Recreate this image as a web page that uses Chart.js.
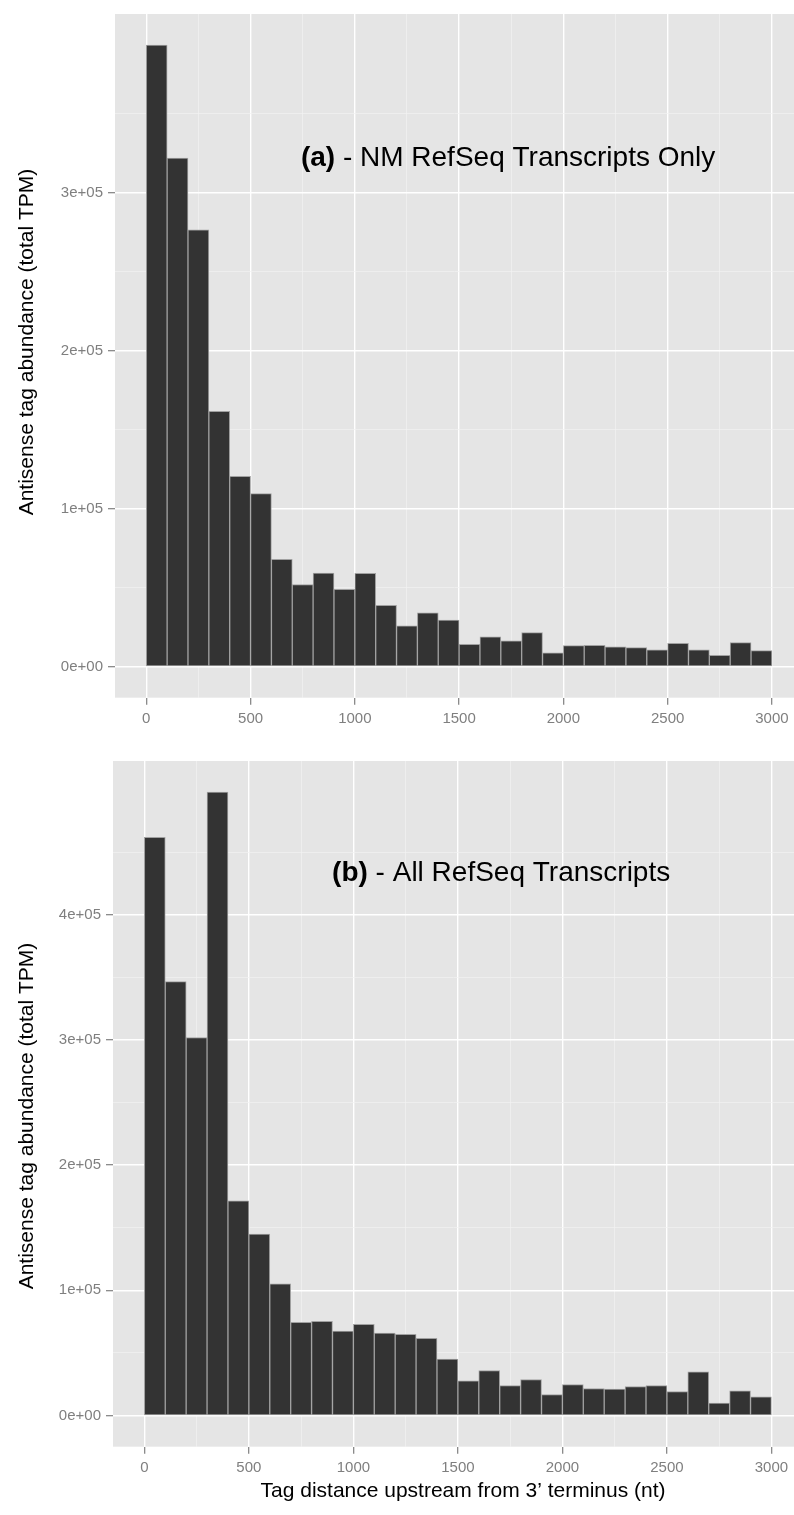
<!DOCTYPE html>
<html>
<head>
<meta charset="utf-8">
<script src="https://cdn.jsdelivr.net/npm/chart.js@4.4.0/dist/chart.umd.min.js"></script>
<style>
  body { margin: 0; background: #fff; width: 794px; height: 1515px; position: relative; overflow: hidden; }
  .panel { position: absolute; left: 0; width: 794px; }
  #wrapA { top: 0; height: 740px; }
  #wrapB { top: 740px; height: 775px; }
</style>
</head>
<body>
<div class="panel" id="wrapA"><canvas id="chartA" width="794" height="740"></canvas></div>
<div class="panel" id="wrapB"><canvas id="chartB" width="794" height="775"></canvas></div>
<script>
/* =========================
   DATA
========================= */
// bin centres (nt), 100 nt bins from 0 to 3000
const binCenters = [50, 150, 250, 350, 450, 550, 650, 750, 850, 950,
  1050, 1150, 1250, 1350, 1450, 1550, 1650, 1750, 1850, 1950,
  2050, 2150, 2250, 2350, 2450, 2550, 2650, 2750, 2850, 2950];

// (a) NM RefSeq transcripts only, total TPM per bin
const nmRefSeq = [393500, 322000, 276500, 161600, 120400, 109500, 68000, 52000, 59300, 48900,
  59000, 38800, 25900, 34100, 29500, 14100, 18900, 16400, 21500, 8800,
  13300, 13500, 12600, 12000, 10700, 14700, 10700, 7200, 15200, 10100];

// (b) all RefSeq transcripts, total TPM per bin
const allRefSeq = [462000, 346600, 302000, 498000, 171500, 144900, 105200, 74400, 75200, 67500,
  72800, 65900, 64800, 61600, 45100, 27700, 36000, 24000, 28800, 16800,
  24800, 21600, 21100, 23200, 24000, 19200, 34900, 9900, 19700, 14900];

const xMajorTicks = [0, 500, 1000, 1500, 2000, 2500, 3000];
const xTickLabels = ["0", "500", "1000", "1500", "2000", "2500", "3000"];
const xMinorTicks = [250, 750, 1250, 1750, 2250, 2750];

const yMajorTicksA = [0, 100000, 200000, 300000];
const yTickLabelsA = ["0e+00", "1e+05", "2e+05", "3e+05"];
const yMinorTicksA = [50000, 150000, 250000, 350000];

const yMajorTicksB = [0, 100000, 200000, 300000, 400000];
const yTickLabelsB = ["0e+00", "1e+05", "2e+05", "3e+05", "4e+05"];
const yMinorTicksB = [50000, 150000, 250000, 350000, 450000];

const yTitle = "Antisense tag abundance (total TPM)";
const xTitle = "Tag distance upstream from 3\u2019 terminus (nt)";

const FONT = "'Liberation Sans', Arial, Helvetica, sans-serif";

/* =========================
   PLUGINS
========================= */
// grey ggplot panel
const panelBg = {
  id: "panelBg",
  beforeDraw(chart) {
    const { ctx, chartArea: a } = chart;
    ctx.save();
    ctx.fillStyle = "#e5e5e5";
    ctx.fillRect(a.left, a.top, a.right - a.left, a.bottom - a.top);
    ctx.restore();
  }
};

// panel label "(a) - ..." and axis titles
const panelText = {
  id: "panelText",
  afterDatasetsDraw(chart, args, opts) {
    const { ctx, scales } = chart;
    ctx.save();
    ctx.fillStyle = "#000";
    ctx.textBaseline = "middle";
    // label, centred on a data position
    const lab = opts.label;
    const cx = scales.x.getPixelForValue(lab.x);
    const cy = scales.y.getPixelForValue(lab.y);
    ctx.font = "bold 28px " + FONT;
    const w1 = ctx.measureText(lab.bold).width;
    ctx.font = "28px " + FONT;
    const w2 = ctx.measureText(lab.rest).width;
    const x0 = cx - (w1 + w2) / 2;
    ctx.textAlign = "left";
    ctx.font = "bold 28px " + FONT;
    ctx.fillText(lab.bold, x0, cy);
    ctx.font = "28px " + FONT;
    ctx.fillText(lab.rest, x0 + w1, cy);
    // y title
    ctx.font = "21px " + FONT;
    ctx.textAlign = "center";
    ctx.save();
    ctx.translate(opts.yTitle.x, opts.yTitle.y);
    ctx.rotate(-Math.PI / 2);
    ctx.fillText(yTitle, 0, 0);
    ctx.restore();
    if (opts.xTitle) {
      ctx.fillText(xTitle, opts.xTitle.x, opts.xTitle.y);
    }
    ctx.restore();
  }
};

/* =========================
   CHART BUILDER
========================= */
function histogram(id, values, yMajor, yLabels, yMinor, cfg) {
  const maxVal = Math.max(...values);
  const majX = c => !!c.tick && xMajorTicks.includes(c.tick.value);
  const majY = c => !!c.tick && yMajor.includes(c.tick.value);

  return new Chart(document.getElementById(id), {
    type: "bar",
    data: {
      datasets: [{
        data: binCenters.map((c, i) => ({ x: c, y: values[i] })),
        backgroundColor: "#333333",
        borderColor: "#a0a0a0",
        borderWidth: 1,
        borderSkipped: false,
        categoryPercentage: 1,
        barPercentage: 1
      }]
    },
    options: {
      responsive: false,
      animation: false,
      layout: { padding: { top: cfg.padTop, left: 0, right: 0, bottom: 0 } },
      plugins: {
        legend: { display: false },
        tooltip: { enabled: false },
        panelText: { label: cfg.label, yTitle: cfg.yTitlePos, xTitle: cfg.xTitlePos }
      },
      scales: {
        x: {
          type: "linear",
          offset: false,
          min: -150,
          max: cfg.xMax,
          afterBuildTicks: s => {
            s.ticks = [...xMajorTicks, ...xMinorTicks].sort((a, b) => a - b).map(v => ({ value: v }));
          },
          afterFit: s => { s.height = cfg.xAxisHeight; },
          border: { display: false },
          grid: {
            offset: false,
            color: c => majX(c) ? "#ffffff" : "#f2f2f2",
            lineWidth: c => majX(c) ? 1.4 : 0.7,
            tickColor: c => majX(c) ? "#7f7f7f" : "rgba(0,0,0,0)",
            tickWidth: 1.2,
            tickLength: 7
          },
          ticks: {
            autoSkip: false,
            maxRotation: 0,
            padding: 5,
            color: "#7f7f7f",
            font: { family: FONT, size: 15 },
            callback: v => {
              const i = xMajorTicks.indexOf(v);
              return i >= 0 ? xTickLabels[i] : "";
            }
          }
        },
        y: {
          min: -0.05 * maxVal,
          max: 1.05 * maxVal,
          afterBuildTicks: s => {
            s.ticks = [...yMajor, ...yMinor].sort((a, b) => a - b).map(v => ({ value: v }));
          },
          afterFit: s => { s.width = cfg.yAxisWidth; },
          border: { display: false },
          grid: {
            color: c => majY(c) ? "#ffffff" : "#f2f2f2",
            lineWidth: c => majY(c) ? 1.4 : 0.7,
            tickColor: c => majY(c) ? "#7f7f7f" : "rgba(0,0,0,0)",
            tickWidth: 1.2,
            tickLength: 7
          },
          ticks: {
            autoSkip: false,
            padding: 5,
            color: "#7f7f7f",
            font: { family: FONT, size: 15 },
            callback: v => {
              const i = yMajor.indexOf(v);
              return i >= 0 ? yLabels[i] : "";
            }
          }
        }
      }
    },
    plugins: [panelBg, panelText]
  });
}

/* =========================
   CHARTS
========================= */
// (a) NM RefSeq only
histogram("chartA", nmRefSeq, yMajorTicksA, yTickLabelsA, yMinorTicksA, {
  padTop: 11,
  xMax: 3106,
  xAxisHeight: 42.3,
  yAxisWidth: 115,
  label: { bold: "(a)", rest: " - NM RefSeq Transcripts Only", x: 1735, y: 322000 },
  yTitlePos: { x: 27, y: 342 },
  xTitlePos: null
});

// (b) all RefSeq
histogram("chartB", allRefSeq, yMajorTicksB, yTickLabelsB, yMinorTicksB, {
  padTop: 21,
  xMax: 3108,
  xAxisHeight: 68.3,
  yAxisWidth: 113,
  label: { bold: "(b)", rest: " - All RefSeq Transcripts", x: 1707, y: 433000 },
  yTitlePos: { x: 27, y: 376 },
  xTitlePos: { x: 463, y: 751 }
});
</script>
</body>
</html>
